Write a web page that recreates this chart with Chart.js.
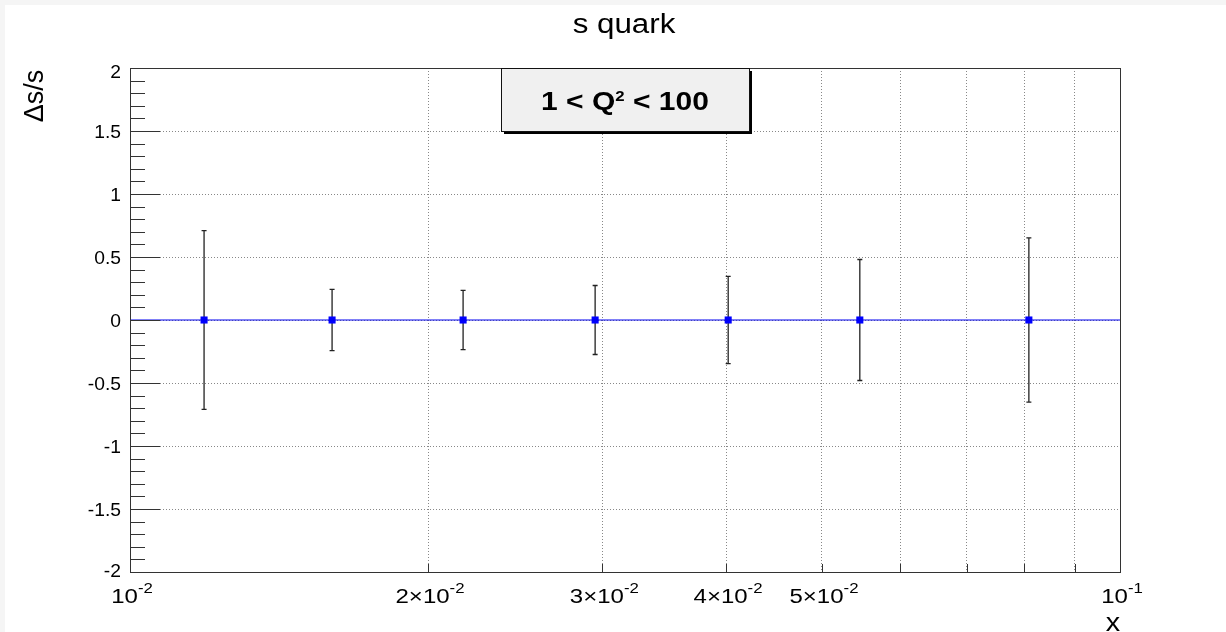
<!DOCTYPE html>
<html>
<head>
<meta charset="utf-8">
<title>s quark</title>
<script src="https://cdn.jsdelivr.net/npm/chart.js@4.4.0/dist/chart.umd.min.js"></script>
<style>
html, body { margin: 0; padding: 0; background: #fff; overflow: hidden; }
#wrap { width: 1226px; height: 632px; }
</style>
</head>
<body>
<div id="wrap"><canvas id="chartCanvas" width="1226" height="632"></canvas></div>
<script>
// data
var xValues = [0.01188, 0.0160, 0.0217, 0.0295, 0.0402, 0.0546, 0.0809];
var yValues = [0, 0, 0, 0, 0, 0, 0];
var yErrors = [0.71, 0.243, 0.235, 0.274, 0.347, 0.48, 0.652];

var xMin = 0.01, xMax = 0.1;
var yMin = -2, yMax = 2;
var xGridValues = [0.01, 0.02, 0.03, 0.04, 0.05, 0.06, 0.07, 0.08, 0.09, 0.1];
var xTickValues = [0.01, 0.02, 0.03, 0.04, 0.05, 0.1];
var xTickMantissa = ['', '2\u00d7', '3\u00d7', '4\u00d7', '5\u00d7', ''];
var xTickExponent = ['-2', '-2', '-2', '-2', '-2', '-1'];
var yTickValues = [-2, -1.5, -1, -0.5, 0, 0.5, 1, 1.5, 2];
var yTickLabels = ['-2', '-1.5', '-1', '-0.5', '0', '0.5', '1', '1.5', '2'];

var titleText = 's quark';
var xTitle = 'x';
var yTitle = '\u0394s/s';
var legendParts = ['1 < Q', '2', ' < 100'];

var FONT = '"Liberation Sans", Arial, Helvetica, sans-serif';

function setFont(ctx, size, bold) {
    ctx.font = (bold ? 'bold ' : '') + size + 'px ' + FONT;
}

// draws a row of text pieces, each {t, size, dy}, centred on x
function drawPieces(ctx, pieces, x, y, bold, sx, align) {
    var total = 0;
    pieces.forEach(function (p) {
        setFont(ctx, p.size, bold);
        p.w = ctx.measureText(p.t).width * sx;
        total += p.w;
    });
    var cx = align == 'right' ? x - total : (align == 'left' ? x : x - total / 2);
    pieces.forEach(function (p) {
        ctx.save();
        setFont(ctx, p.size, bold);
        ctx.textAlign = 'left';
        ctx.textBaseline = 'alphabetic';
        ctx.translate(cx, y + (p.dy || 0));
        ctx.scale(sx, 1);
        ctx.fillText(p.t, 0, 0);
        ctx.restore();
        cx += p.w;
    });
}

var rootStyle = {
    id: 'rootStyle',
    beforeDraw: function (chart) {
        var ctx = chart.ctx;
        ctx.save();
        ctx.fillStyle = '#f5f5f5';
        ctx.fillRect(0, 0, chart.width, chart.height);
        ctx.fillStyle = '#ffffff';
        ctx.fillRect(5, 5, chart.width - 5, chart.height - 5);
        ctx.restore();
    },
    beforeDatasetsDraw: function (chart) {
        // error bars
        var ctx = chart.ctx;
        var xs = chart.scales.x, ys = chart.scales.y;
        ctx.save();
        ctx.strokeStyle = '#222';
        ctx.lineWidth = 1.3;
        for (var i = 0; i < xValues.length; i++) {
            var px = xs.getPixelForValue(xValues[i]);
            var top = ys.getPixelForValue(yValues[i] + yErrors[i]);
            var bot = ys.getPixelForValue(yValues[i] - yErrors[i]);
            ctx.beginPath();
            ctx.moveTo(px, top);
            ctx.lineTo(px, bot);
            ctx.moveTo(px - 2.5, top);
            ctx.lineTo(px + 2.5, top);
            ctx.moveTo(px - 2.5, bot);
            ctx.lineTo(px + 2.5, bot);
            ctx.stroke();
        }
        ctx.restore();
    },
    afterDraw: function (chart) {
        var ctx = chart.ctx;
        var a = chart.chartArea;
        var xs = chart.scales.x, ys = chart.scales.y;
        ctx.save();
        ctx.fillStyle = '#000';

        // ticks
        ctx.strokeStyle = '#333';
        ctx.lineWidth = 1;
        ctx.beginPath();
        for (var v = yMin; v <= yMax + 1e-9; v += 0.1) {
            var py = Math.round(ys.getPixelForValue(v)) + 0.5;
            var major = Math.abs(v * 2 - Math.round(v * 2)) < 1e-6;
            ctx.moveTo(a.left, py);
            ctx.lineTo(a.left + (major ? 30 : 15), py);
        }
        xGridValues.forEach(function (xv) {
            var px = Math.round(xs.getPixelForValue(xv)) + 0.5;
            ctx.moveTo(px, a.bottom);
            ctx.lineTo(px, a.bottom - 8);
        });
        ctx.stroke();

        // frame
        ctx.strokeStyle = '#333';
        ctx.strokeRect(Math.round(a.left) + 0.5, Math.round(a.top) + 0.5,
            Math.round(a.right - a.left), Math.round(a.bottom - a.top));

        // y tick labels
        yTickValues.forEach(function (yv, i) {
            var py = ys.getPixelForValue(yv);
            py = Math.min(Math.max(py, a.top + 3), a.bottom - 2);
            drawPieces(ctx, [{ t: yTickLabels[i], size: 18 }], a.left - 9, py + 6.5, false, 1.07, 'right');
        });

        // x tick labels
        xTickValues.forEach(function (xv, i) {
            var px = xs.getPixelForValue(xv);
            drawPieces(ctx, [
                { t: xTickMantissa[i] + '10', size: 20 },
                { t: xTickExponent[i], size: 14, dy: -10 }
            ], px + 2, 603, false, 1.2, 'center');
        });

        // titles
        drawPieces(ctx, [{ t: titleText, size: 27 }], 624, 33, false, 1.16, 'center');
        drawPieces(ctx, [{ t: xTitle, size: 25 }], 1120, 631, false, 1.15, 'right');
        ctx.save();
        ctx.translate(43, 96);
        ctx.rotate(-Math.PI / 2);
        setFont(ctx, 27, false);
        ctx.textAlign = 'center';
        ctx.fillText(yTitle, 0, 0);
        ctx.restore();

        // legend box
        var bx = 501, by = 68, bw = 248, bh = 63;
        ctx.fillStyle = '#000';
        ctx.fillRect(bx + 3, by + 3, bw, bh);
        ctx.fillStyle = '#f0f0f0';
        ctx.fillRect(bx, by, bw, bh);
        ctx.strokeStyle = '#111';
        ctx.strokeRect(bx + 0.5, by + 0.5, bw, bh);
        ctx.fillStyle = '#000';
        drawPieces(ctx, [
            { t: legendParts[0], size: 25 },
            { t: legendParts[1], size: 14, dy: -9 },
            { t: legendParts[2], size: 25 }
        ], 625, 110, true, 1.2, 'center');

        ctx.restore();
    }
};

var ctx = document.getElementById('chartCanvas');
var myChart = new Chart(ctx, {
    type: 'scatter',
    data: {
        datasets: [{
            type: 'line',
            label: 'zero',
            data: [{ x: xMin, y: 0 }, { x: xMax, y: 0 }],
            borderColor: '#0000ee',
            borderWidth: 1,
            pointRadius: 0,
            fill: false
        }, {
            label: '\u0394s/s',
            data: xValues.map(function (xv, i) { return { x: xv, y: yValues[i] }; }),
            pointStyle: 'rect',
            pointRadius: 5,
            backgroundColor: '#0000ff',
            borderColor: '#0000ff',
            borderWidth: 0,
            showLine: false
        }]
    },
    options: {
        responsive: false,
        animation: false,
        devicePixelRatio: 1,
        layout: { padding: { left: 130, right: 106, top: 68, bottom: 60 } },
        plugins: {
            legend: { display: false },
            title: { display: false },
            tooltip: { enabled: false }
        },
        scales: {
            x: {
                type: 'logarithmic',
                min: xMin,
                max: xMax,
                afterBuildTicks: function (s) {
                    s.ticks = xGridValues.map(function (v) { return { value: v }; });
                },
                afterFit: function (s) { s.height = 0; },
                ticks: { display: false },
                grid: { color: '#888', lineWidth: 1, drawTicks: false },
                border: { display: false, dash: [1, 2] }
            },
            y: {
                type: 'linear',
                min: yMin,
                max: yMax,
                afterBuildTicks: function (s) {
                    s.ticks = yTickValues.map(function (v) { return { value: v }; });
                },
                afterFit: function (s) { s.width = 0; },
                ticks: { display: false },
                grid: { color: '#888', lineWidth: 1, drawTicks: false },
                border: { display: false, dash: [1, 2] }
            }
        }
    },
    plugins: [rootStyle]
});
</script>
</body>
</html>
